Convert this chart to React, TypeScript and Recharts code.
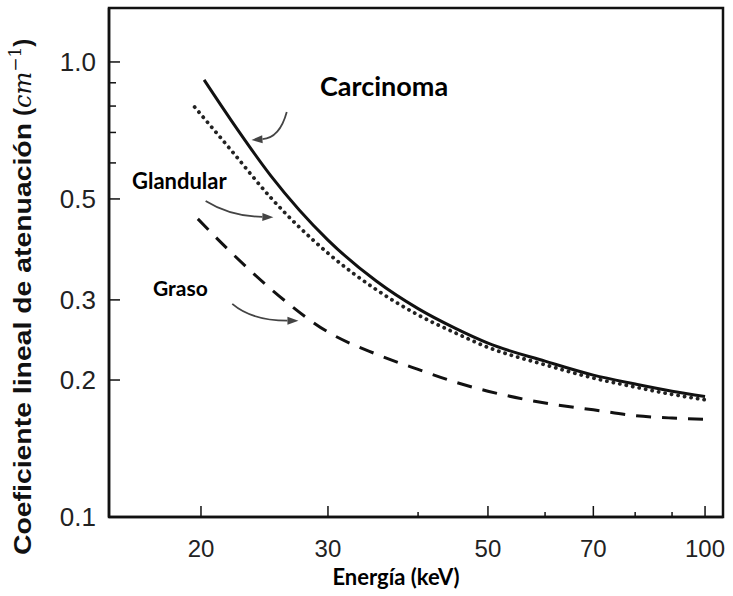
import React from 'react';
import { LineChart, Line, XAxis, YAxis, ReferenceLine, ReferenceArea } from 'recharts';

// Energy (keV) and linear attenuation coefficient (cm^-1)
const energyCarcinoma = [20.2, 22, 25, 30, 35, 40, 45, 50, 60, 70, 80, 90, 100];
const muCarcinoma = [0.913, 0.746, 0.562, 0.406, 0.33, 0.287, 0.26, 0.241, 0.22, 0.205, 0.196, 0.189, 0.184];

const energyGlandular = [19.6, 22, 25, 30, 35, 40, 45, 50, 60, 70, 80, 90, 100];
const muGlandular = [0.796, 0.641, 0.503, 0.38, 0.316, 0.278, 0.254, 0.236, 0.216, 0.202, 0.193, 0.186, 0.181];

const energyGraso = [19.8, 22, 25, 30, 35, 40, 45, 50, 60, 70, 80, 90, 100];
const muGraso = [0.452, 0.382, 0.317, 0.255, 0.228, 0.211, 0.198, 0.189, 0.178, 0.172, 0.167, 0.165, 0.164];

const xTicks = [20, 30, 40, 50, 60, 70, 80, 90, 100];
const xMajor = [20, 30, 50, 70, 100];
const yTicks = [0.1, 0.2, 0.3, 0.5, 0.6, 0.7, 0.8, 0.9, 1.0];
const yMajor = [0.1, 0.2, 0.3, 0.5, 1.0];

const xDomain = [14.91, 105.9];
const yDomain = [0.1, 1.314];

// annotation arrows (start -> end) in data units
const arrowCarcinoma = [{ x: 26.3, y: 0.776 }, { x: 23.5, y: 0.674 }];
const arrowGlandular = [{ x: 20.3, y: 0.495 }, { x: 25.2, y: 0.456 }];
const arrowGraso = [{ x: 22.1, y: 0.294 }, { x: 27.3, y: 0.27 }];

const toData = (xs: number[], ys: number[]) => xs.map((e, i) => ({ e, mu: ys[i] }));
const dataCarcinoma = toData(energyCarcinoma, muCarcinoma);
const dataGlandular = toData(energyGlandular, muGlandular);
const dataGraso = toData(energyGraso, muGraso);

const XTick = (props: any) => {
  const { x, y, payload } = props;
  const major = xMajor.includes(payload.value);
  return (
    <g>
      <line x1={x} x2={x} y1={y} y2={y - (major ? 11 : 5)} stroke="#111" strokeWidth={1.5} />
      {major && (
        <text x={x} y={y + 40} textAnchor="middle" fontSize={24} fill="#222" fontFamily="'Liberation Sans', Arial, sans-serif">
          {payload.value}
        </text>
      )}
    </g>
  );
};

const YTick = (props: any) => {
  const { x, y, payload } = props;
  const major = yMajor.includes(payload.value);
  return (
    <g>
      <line x1={x} x2={x + (major ? 11 : 7)} y1={y} y2={y} stroke="#111" strokeWidth={1.5} />
      {major && (
        <text x={x - 13} y={y + 9} textAnchor="end" fontSize={26} fill="#222" fontFamily="'Liberation Sans', Arial, sans-serif">
          {Number(payload.value).toFixed(1)}
        </text>
      )}
    </g>
  );
};

const makeArrow = (a: number, b: number) => (props: any) => {
  const { x1, y1, x2, y2 } = props;
  const cx = x1 + (x2 - x1) * a;
  const cy = y1 + (y2 - y1) * b;
  const ang = Math.atan2(y2 - cy, x2 - cx);
  const L = 11;
  const W = 4;
  const bx = x2 - L * Math.cos(ang);
  const by = y2 - L * Math.sin(ang);
  const px = -Math.sin(ang) * W;
  const py = Math.cos(ang) * W;
  return (
    <g>
      <path d={`M${x1},${y1} Q${cx},${cy} ${bx},${by}`} fill="none" stroke="#444" strokeWidth={1.8} />
      <polygon points={`${x2},${y2} ${bx + px},${by + py} ${bx - px},${by - py}`} fill="#444" />
    </g>
  );
};

const annoFont = "Lato, 'Open Sans', sans-serif";

export default function App() {
  return (
    <div style={{ position: 'absolute', left: 0, top: 0, width: 733, height: 596, background: '#fff' }}>
      <LineChart width={733} height={596} margin={{ top: 8, right: 10, left: 0, bottom: 0 }}>
        <XAxis
          dataKey="e"
          type="number"
          scale="log"
          domain={xDomain}
          allowDataOverflow
          ticks={xTicks}
          interval={0}
          tick={<XTick />}
          tickLine={false}
          tickSize={0}
          tickMargin={0}
          height={79}
          axisLine={{ stroke: '#111', strokeWidth: 2.5 }}
        />
        <YAxis
          dataKey="mu"
          type="number"
          scale="log"
          domain={yDomain}
          allowDataOverflow
          ticks={yTicks}
          interval={0}
          tick={<YTick />}
          tickLine={false}
          tickSize={0}
          tickMargin={0}
          width={109}
          axisLine={{ stroke: '#111', strokeWidth: 2.5 }}
        />
        <ReferenceArea
          x1={xDomain[0]}
          x2={xDomain[1]}
          y1={yDomain[0]}
          y2={yDomain[1]}
          fill="none"
          fillOpacity={0}
          stroke="#111"
          strokeWidth={2.5}
          ifOverflow="visible"
        />
        <Line data={dataCarcinoma} dataKey="mu" type="monotone" stroke="#111" strokeWidth={3} dot={false} isAnimationActive={false} />
        <Line
          data={dataGlandular}
          dataKey="mu"
          type="monotone"
          stroke="#222"
          strokeWidth={3.8}
          strokeDasharray="0.1 6.5"
          strokeLinecap="round"
          dot={false}
          isAnimationActive={false}
        />
        <Line
          data={dataGraso}
          dataKey="mu"
          type="monotone"
          stroke="#111"
          strokeWidth={3}
          strokeDasharray="15 11"
          dot={false}
          isAnimationActive={false}
        />
        <ReferenceLine segment={arrowCarcinoma} shape={makeArrow(0.2, 0.93)} ifOverflow="visible" />
        <ReferenceLine segment={arrowGlandular} shape={makeArrow(0.36, 0.94)} ifOverflow="visible" />
        <ReferenceLine segment={arrowGraso} shape={makeArrow(0.3, 1.0)} ifOverflow="visible" />
      </LineChart>
      <svg width={733} height={596} style={{ position: 'absolute', left: 0, top: 0, pointerEvents: 'none' }}>
        <text x={320} y={96} fontSize={27} fontWeight="bold" fontFamily={annoFont} fill="#000">Carcinoma</text>
        <text x={132} y={189} fontSize={22} fontWeight="bold" fontFamily={annoFont} fill="#000">Glandular</text>
        <text x={153} y={296} fontSize={21} fontWeight="bold" fontFamily={annoFont} fill="#000">Graso</text>
        <text x={396} y={585} textAnchor="middle" fontSize={22} fontWeight="bold" fontFamily={annoFont} fill="#000">Energía (keV)</text>
        <text
          transform="translate(31,555) rotate(-90)"
          x={0}
          y={0}
          fontSize={23}
          fontWeight="bold"
          fontFamily="'Liberation Sans', Arial, sans-serif"
          fill="#111"
          textLength={432}
          lengthAdjust="spacingAndGlyphs"
        >
          Coeficiente lineal de atenuación
        </text>
        <text transform="translate(31,116) rotate(-90)" x={0} y={0} fontSize={24} fill="#111" fontFamily="'DejaVu Serif', serif">
          <tspan fontFamily="'Liberation Sans', Arial, sans-serif" fontWeight="bold">(</tspan>
          <tspan fontStyle="italic">cm</tspan>
          <tspan fontSize={17} dy={-10}>−1</tspan>
          <tspan dy={10} fontFamily="'Liberation Sans', Arial, sans-serif" fontWeight="bold">)</tspan>
        </text>
      </svg>
    </div>
  );
}
